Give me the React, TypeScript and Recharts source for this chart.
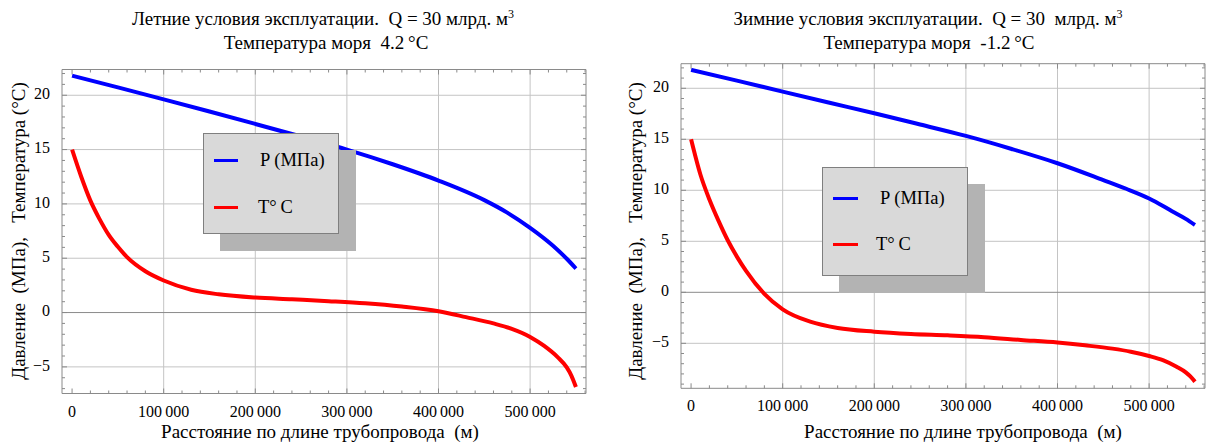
import React from 'react';
import { LineChart, Line, XAxis, YAxis, ReferenceLine } from 'recharts';

// ---------- data ----------
const pDistances = [0, 50000, 100000, 150000, 200000, 250000, 300000, 350000, 400000, 450000, 475000, 500000, 525000, 540000, 550000];
const pSummer = [21.8, 20.72, 19.62, 18.5, 17.36, 16.2, 15.0, 13.65, 12.15, 10.35, 9.2, 7.8, 6.15, 4.95, 4.05];
const pWinter = [21.8, 20.75, 19.67, 18.6, 17.55, 16.45, 15.33, 14.05, 12.65, 11.0, 10.15, 9.2, 7.95, 7.2, 6.6];

const tDistances = [0, 10000, 20000, 30000, 40000, 50000, 60000, 80000, 100000, 130000, 160000, 200000, 240000, 280000, 320000, 360000, 400000, 430000, 460000, 480000, 500000, 515000, 530000, 540000, 545000, 550000];
const tSummer = [15.0, 12.5, 10.3, 8.6, 7.15, 6.05, 5.1, 3.8, 2.95, 2.1, 1.68, 1.38, 1.22, 1.05, 0.85, 0.55, 0.12, -0.42, -1.0, -1.5, -2.24, -3.05, -4.1, -5.05, -5.8, -6.85];
const tWinter = [15.0, 11.6, 9.1, 7.0, 5.1, 3.5, 2.1, -0.15, -1.67, -2.88, -3.5, -3.86, -4.08, -4.22, -4.4, -4.67, -4.93, -5.2, -5.52, -5.82, -6.24, -6.65, -7.3, -7.85, -8.25, -8.76];

const xMajorTicks = [0, 100000, 200000, 300000, 400000, 500000];
const xGridValues = [100000, 200000, 300000, 400000, 500000];
const yMajorTicks = [-5, 0, 5, 10, 15, 20];
const yGridValues = [-5, 5, 10, 15, 20];

const legendLabels = ['P (МПа)', 'T°\u2009C'];
const seriesColors = ['#0000ff', '#ff0000'];

const titleSummer = ['Летние условия эксплуатации.  Q = 30 млрд. м', 'Температура моря  4.2\u2009°C'];
const titleWinter = ['Зимние условия эксплуатации.  Q = 30  млрд. м', 'Температура моря  -1.2\u2009°C'];
const xAxisTitle = 'Расстояние по длине трубопровода  (м)';
const yAxisTitle = 'Давление  (МПа),   Температура (°C)';

// ---------- helpers ----------
const FONT = '"Liberation Serif", "Times New Roman", serif';
const FRAME = '#8a8a8a';
const GRID = '#c4c4c4';
const AXIS0 = '#8a8a8a';
const TICK_FS = 16;
const LABEL_FS = 19;

function range(a: number, b: number, step: number) {
  const out: number[] = [];
  for (let v = a; v <= b + 1e-9; v += step) out.push(Math.round(v * 1000) / 1000);
  return out;
}
const xAllTicks = range(0, 560000, 20000);
const xDomain: [number, number] = [-11000, 561000];

const zip = (xs: number[], vs: number[]) => xs.map((x, i) => ({ x, v: vs[i] }));

const fmtX = (v: number) => (v === 0 ? '0' : `${v / 1000}\u2009000`);
const fmtY = (v: number) => (v < 0 ? `\u2212${-v}` : `${v}`);

const isMajorX = (v: number) => xMajorTicks.includes(v);
const isMajorY = (v: number) => yMajorTicks.includes(v);

const BottomTick = (p: any) => {
  const { x, y, payload } = p;
  const v = payload.value;
  const major = isMajorX(v);
  return (
    <g>
      <line x1={x} x2={x} y1={y} y2={y - (major ? 5 : 3)} stroke={FRAME} />
      {major && (
        <text x={x} y={y + 19.5} textAnchor="middle" dominantBaseline="middle" fontFamily={FONT} fontSize={TICK_FS} fill="#000">
          {fmtX(v)}
        </text>
      )}
    </g>
  );
};
const TopTick = (p: any) => {
  const { x, y, payload } = p;
  const major = isMajorX(payload.value);
  return <line x1={x} x2={x} y1={y} y2={y + (major ? 5 : 3)} stroke={FRAME} />;
};
const LeftTick = (p: any) => {
  const { x, y, payload } = p;
  const v = payload.value;
  const major = isMajorY(v);
  return (
    <g>
      <line x1={x} x2={x + (major ? 5 : 3)} y1={y} y2={y} stroke={FRAME} />
      {major && (
        <text x={x - 12} y={y} textAnchor="end" dominantBaseline="middle" fontFamily={FONT} fontSize={TICK_FS} fill="#000">
          {fmtY(v)}
        </text>
      )}
    </g>
  );
};
const RightTick = (p: any) => {
  const { x, y, payload } = p;
  const major = isMajorY(payload.value);
  return <line x1={x} x2={x - (major ? 5 : 3)} y1={y} y2={y} stroke={FRAME} />;
};

type PanelProps = {
  left: number;
  width: number;
  plotLeft: number;
  plotRight: number;
  plotTop: number;
  plotBottom: number;
  yDomain: [number, number];
  pVals: number[];
  tVals: number[];
};

function Panel({ left, width, plotLeft, plotRight, plotTop, plotBottom, yDomain, pVals, tVals }: PanelProps) {
  const H = 443;
  const yAll = range(Math.ceil(yDomain[0]), Math.floor(yDomain[1]), 1);
  const pData = zip(pDistances, pVals);
  const tData = zip(tDistances, tVals);
  return (
    <div style={{ position: 'absolute', left, top: 0, width, height: H }}>
      <LineChart width={width} height={H} margin={{ top: 0, right: 0, bottom: 0, left: 0 }}>
        <XAxis xAxisId="b" orientation="bottom" type="number" dataKey="x" domain={xDomain} allowDataOverflow
          ticks={xAllTicks} interval={0} height={H - plotBottom} tickSize={0} tickMargin={0}
          axisLine={{ stroke: FRAME }} tickLine={false} tick={(p: any) => <BottomTick {...p} />} />
        <XAxis xAxisId="t" orientation="top" type="number" dataKey="x" domain={xDomain} allowDataOverflow
          ticks={xAllTicks} interval={0} height={plotTop} tickSize={0} tickMargin={0}
          axisLine={{ stroke: FRAME }} tickLine={false} tick={(p: any) => <TopTick {...p} />} />
        <YAxis yAxisId="l" orientation="left" type="number" domain={yDomain} allowDataOverflow
          ticks={yAll} interval={0} width={plotLeft} tickSize={0} tickMargin={0}
          axisLine={{ stroke: FRAME }} tickLine={false} tick={(p: any) => <LeftTick {...p} />} />
        <YAxis yAxisId="r" orientation="right" type="number" domain={yDomain} allowDataOverflow
          ticks={yAll} interval={0} width={width - plotRight} tickSize={0} tickMargin={0}
          axisLine={{ stroke: FRAME }} tickLine={false} tick={(p: any) => <RightTick {...p} />} />
        {xGridValues.map((v) => (
          <ReferenceLine key={'gx' + v} xAxisId="b" yAxisId="l" x={v} stroke={GRID} strokeWidth={1} />
        ))}
        {yGridValues.map((v) => (
          <ReferenceLine key={'gy' + v} xAxisId="b" yAxisId="l" y={v} stroke={GRID} strokeWidth={1} />
        ))}
        <ReferenceLine xAxisId="b" yAxisId="l" y={0} stroke={AXIS0} strokeWidth={1} />
        <Line xAxisId="b" yAxisId="l" data={pData} dataKey="v" type="monotone" stroke={seriesColors[0]}
          strokeWidth={4} dot={false} activeDot={false} isAnimationActive={false} />
        <Line xAxisId="b" yAxisId="l" data={tData} dataKey="v" type="monotone" stroke={seriesColors[1]}
          strokeWidth={4} dot={false} activeDot={false} isAnimationActive={false} />
      </LineChart>
    </div>
  );
}

function TextAt({ cx, cy, size, children }: { cx: number; cy: number; size: number; children: React.ReactNode }) {
  return (
    <div style={{
      position: 'absolute', left: cx, top: cy, transform: 'translate(-50%, -50%)',
      fontFamily: FONT, fontSize: size, whiteSpace: 'pre', lineHeight: 1, color: '#000',
    }}>
      {children}
    </div>
  );
}

function VText({ cx, cy, size, children }: { cx: number; cy: number; size: number; children: React.ReactNode }) {
  return (
    <div style={{
      position: 'absolute', left: cx, top: cy, transform: 'translate(-50%, -50%) rotate(-90deg)',
      fontFamily: FONT, fontSize: size, whiteSpace: 'pre', lineHeight: 1, color: '#000',
    }}>
      {children}
    </div>
  );
}

function LegendBox({ x, y, w, h, ly1, ly2, lx, llen, tx1, tx2 }: any) {
  const txt = { position: 'absolute' as const, height: 20, lineHeight: '20px', fontFamily: FONT, fontSize: 18.5, whiteSpace: 'pre' as const };
  return (
    <>
      <div style={{ position: 'absolute', left: x + 17, top: y + 17, width: w, height: h, background: '#b3b3b3' }} />
      <div style={{ position: 'absolute', left: x, top: y, width: w, height: h, background: '#d9d9d9', border: '1px solid #7f7f7f', boxSizing: 'border-box' }}>
        <div style={{ position: 'absolute', left: lx, top: ly1 - 1.5, width: llen, height: 3, background: seriesColors[0] }} />
        <div style={{ ...txt, left: tx1, top: ly1 - 10 }}>{legendLabels[0]}</div>
        <div style={{ position: 'absolute', left: lx, top: ly2 - 1.5, width: llen, height: 3, background: seriesColors[1] }} />
        <div style={{ ...txt, left: tx2, top: ly2 - 10 }}>{legendLabels[1]}</div>
      </div>
    </>
  );
}

export default function App() {
  return (
    <div style={{ position: 'absolute', left: 0, top: 0, width: 1208, height: 443, background: '#fff', overflow: 'hidden' }}>
      <Panel left={0} width={600} plotLeft={62} plotRight={586} plotTop={69.5} plotBottom={393.5}
        yDomain={[-7.45, 22.37]} pVals={pSummer} tVals={tSummer} />
      <Panel left={600} width={608} plotLeft={81} plotRight={605} plotTop={63.7} plotBottom={388.3}
        yDomain={[-9.41, 22.41]} pVals={pWinter} tVals={tWinter} />

      <TextAt cx={323} cy={18} size={LABEL_FS}>{titleSummer[0]}<sup style={{ fontSize: 12 }}>3</sup></TextAt>
      <TextAt cx={326} cy={42} size={LABEL_FS}>{titleSummer[1]}</TextAt>
      <TextAt cx={928} cy={18} size={LABEL_FS}>{titleWinter[0]}<sup style={{ fontSize: 12 }}>3</sup></TextAt>
      <TextAt cx={929} cy={42} size={LABEL_FS}>{titleWinter[1]}</TextAt>

      <TextAt cx={320} cy={431} size={LABEL_FS}>{xAxisTitle}</TextAt>
      <TextAt cx={963} cy={431} size={LABEL_FS}>{xAxisTitle}</TextAt>

      <VText cx={18} cy={231} size={LABEL_FS}>{yAxisTitle}</VText>
      <VText cx={635} cy={231} size={LABEL_FS}>{yAxisTitle}</VText>

      <LegendBox x={203} y={133} w={136} h={101} lx={10} llen={24} ly1={26} ly2={73} tx1={56} tx2={54} />
      <LegendBox x={822} y={167} w={146} h={109} lx={10} llen={25} ly1={30} ly2={76} tx1={57} tx2={53} />
    </div>
  );
}
